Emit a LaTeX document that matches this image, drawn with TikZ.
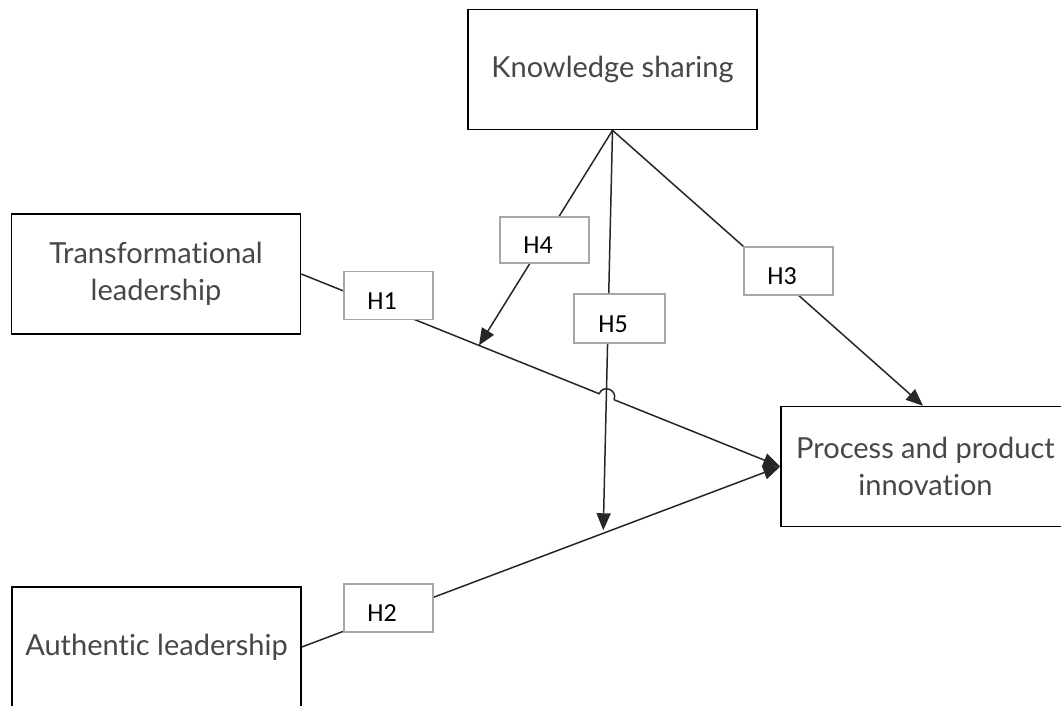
\documentclass[tikz,border=0pt]{standalone}
\usepackage{fontspec}
\setmainfont{Lato}[Ligatures={NoCommon,NoContextual}]
\newfontfamily\labelfont{Carlito}
\usetikzlibrary{arrows.meta,calc,backgrounds}
\begin{document}
\begin{tikzpicture}[x=1pt,y=-1pt,
  mainbox/.style={draw=black, line width=1.6pt, fill=white, minimum width=289pt, minimum height=120pt, inner sep=0pt, align=center, text=black!72, font=\fontsize{29}{37}\selectfont},
  hbox/.style={draw=black!35, line width=1.8pt, fill=white, minimum width=89pt, minimum height=48pt, inner sep=0pt, text height=27pt, text depth=0pt, text=black, font=\labelfont\fontsize{26}{30}\selectfont},
  conn/.style={draw=black!85, line width=1.5pt},
  arr/.style={conn, -{Triangle[length=17pt,width=14pt]}},
]
\useasboundingbox (0,0) rectangle (1061,705);
\clip (0,0) rectangle (1061,705);

\node[mainbox] (KS) at (612.5,69.5) {Knowledge sharing};
\node[mainbox] (TL) at (156,274) {Transformational\\leadership};
\node[mainbox] (PPI) at (925.5,466.5) {Process and product\\innovation};
\node[mainbox] (AL) at (156.5,647) {Authentic leadership};

\node[hbox] (H1) at (388.5,295.5) {H1\hspace*{13pt}};
\node[hbox] (H2) at (388.5,608) {H2\hspace*{13pt}};
\node[hbox] (H3) at (788.5,271) {H3\hspace*{13pt}};
\node[hbox, minimum height=46pt] (H4) at (544.5,240) {H4\hspace*{13pt}};
\node[hbox, minimum width=91pt, minimum height=49pt] (H5) at (619.5,318.5) {H5\hspace*{13pt}};

\begin{pgfonlayer}{background}
\coordinate (X) at ($(TL.east)!0.6375!(PPI.west)$);
\coordinate (hopA) at ($(X)!8pt!(TL.east)$);
\coordinate (hopB) at ($(X)!8pt!(PPI.west)$);
\draw[conn] (TL.east) -- (hopA) .. controls ($(hopA)!10.5pt!90:(X)$) and ($(hopB)!10.5pt!-90:(X)$) .. (hopB);
\draw[arr] (hopB) -- (PPI.west);
\draw[arr] (AL.east) -- (PPI.west);
\coordinate (h4tip) at ($(TL.east)!0.371!(PPI.west)$);
\draw[arr] (KS.south) -- (h4tip);
\coordinate (h5tip) at ($(AL.east)!0.63!(PPI.west)$);
\draw[arr, shorten >=3pt] (KS.south) -- (h5tip);
\draw[arr] (KS.south) -- ([xshift=-2.5pt]PPI.north);
\end{pgfonlayer}
\end{tikzpicture}
\end{document}
